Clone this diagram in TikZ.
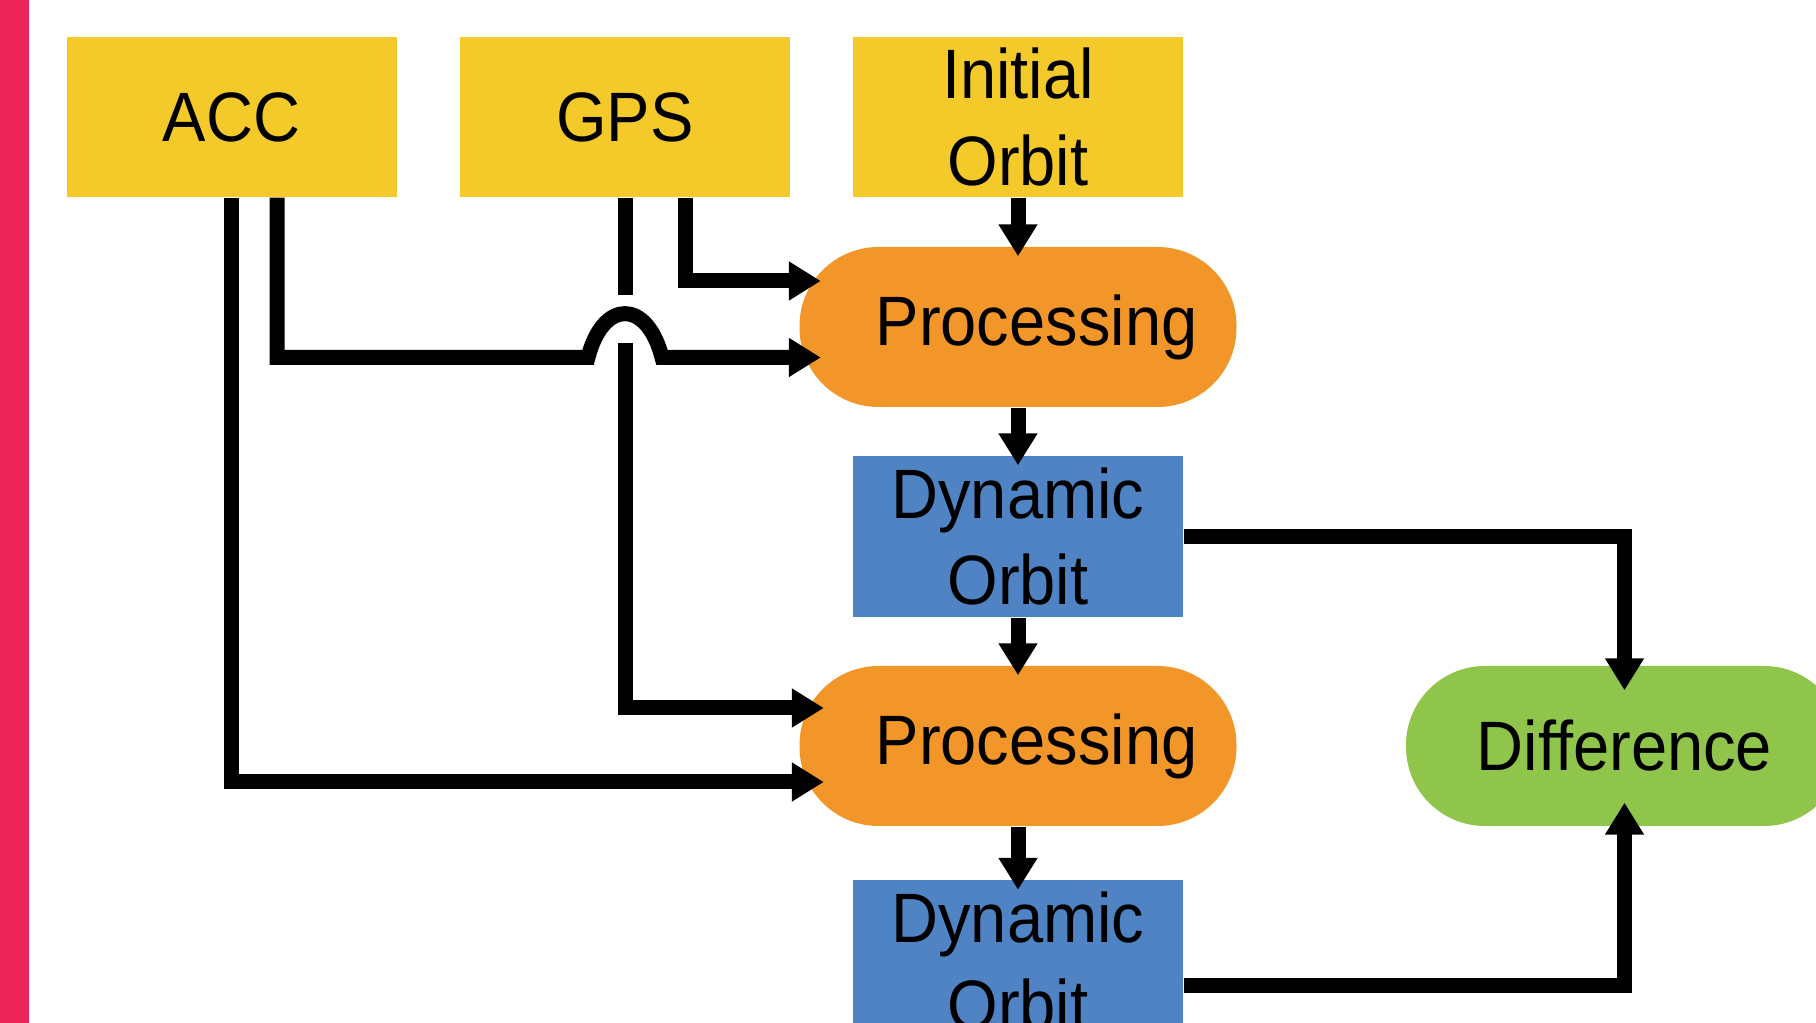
\documentclass[tikz,border=0pt]{standalone}
\usepackage{fontspec}
\setmainfont{Liberation Sans}[FakeStretch=0.93]
\usetikzlibrary{arrows.meta}

\definecolor{datayellow}{RGB}{244,202,42}
\definecolor{procorange}{RGB}{243,150,41}
\definecolor{orbitblue}{RGB}{79,131,196}
\definecolor{diffgreen}{RGB}{143,197,74}
\definecolor{barpink}{RGB}{237,36,89}

\tikzset{
  databox/.style={fill=datayellow, minimum width=3.3cm, minimum height=1.6cm, inner sep=0pt, align=center},
  orbitbox/.style={fill=orbitblue, minimum width=3.3cm, minimum height=1.61cm, inner sep=0pt, align=center},
  procbox/.style={fill=procorange, rounded corners=7.9mm, minimum width=4.37cm, minimum height=1.6cm, inner sep=0pt},
  diffbox/.style={procbox, fill=diffgreen},
  link/.style={line width=1.5mm},
  flow/.style={link, -{Triangle[length=3.2mm,width=3.7mm]}},
}

\begin{document}
\begin{tikzpicture}[font=\fontsize{19.9}{24.7}\selectfont]
    \useasboundingbox (0,0) rectangle (18.16,-10.23);
    \clip (0,0) rectangle (18.16,-10.23);
    \fill[barpink] (0,0) rectangle (0.29,-10.23);

    % inputs
    \node[databox] (acc)  at ( 2.315,-1.17) {ACC};
    \node[databox] (gps)  at ( 6.25,-1.17) {GPS};
    \node[databox] (init) at (10.18,-1.17) {Initial\\Orbit};

    % processing chain
    \node[procbox]  (proc1) at (10.18,-3.27)  {\hspace*{3.7mm}Processing};
    \node[orbitbox] (dyn1)  at (10.18,-5.365) {Dynamic\\Orbit};
    \node[procbox]  (proc2) at (10.18,-7.46)  {\hspace*{3.7mm}Processing};
    \node[orbitbox] (dyn2)  at (10.18,-9.61)  {Dynamic\\Orbit};
    \node[diffbox]  (diff)  at (16.245,-7.46) {Difference};

    \draw[flow, shorten >=-1mm] (init.south)  -- (proc1.north);
    \draw[flow, shorten >=-1mm] (proc1.south) -- (dyn1.north);
    \draw[flow, shorten >=-1mm] (dyn1.south)  -- (proc2.north);
    \draw[flow, shorten >=-1mm] (proc2.south) -- (dyn2.north);

    \draw[flow] (dyn1.east) -| ([yshift=-2.5mm]diff.north);
    \draw[flow] ([yshift=-2.45mm]dyn2.east) -| ([yshift=2.4mm]diff.south);

    % ACC lines, one hops over the GPS line
    \coordinate (hopin)  at (5.88,-3.575);
    \coordinate (hopout) at (6.62,-3.575);
    \draw[flow] (acc.south) |- ([shift={(2.5mm,-3.6mm)}]proc2.west);
    \draw[flow] ([xshift=4.55mm]acc.south) |- (hopin)
        .. controls (6.03,-2.99) and (6.47,-2.99) .. (hopout)
        -- ([shift={(2.2mm,-3.05mm)}]proc1.west);

    % GPS lines
    \coordinate (gapabove) at (6.25,-2.95);
    \coordinate (gapbelow) at (6.25,-3.43);
    \draw[flow] ([xshift=6mm]gps.south) |- ([shift={(2.2mm,4.6mm)}]proc1.west);
    \draw[link] (gps.south) -- (gapabove);
    \draw[flow] (gapbelow) |- ([shift={(2.5mm,3.8mm)}]proc2.west);
\end{tikzpicture}
\end{document}
